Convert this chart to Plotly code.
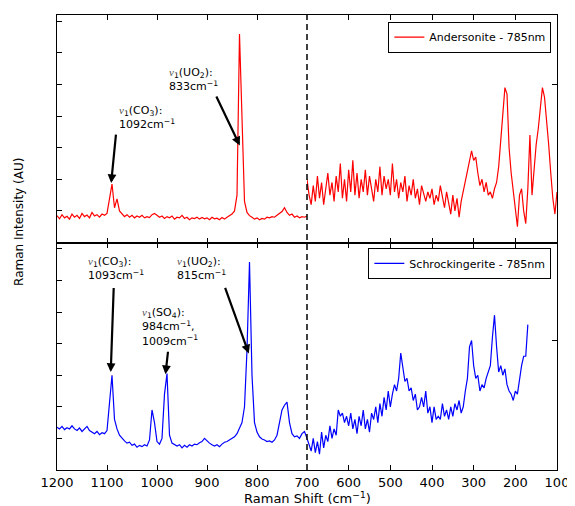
import numpy as np
import plotly.graph_objects as go

# ---------------- data ----------------
x_left = list(range(1200, 695, -5))          # 1200 -> 700
x_right_top = list(range(700, 95, -5))       # 700 -> 100
x_right_bot = list(range(700, 165, -5))      # 700 -> 170

anders_left = [
    0.85, 0.75, 0.88, 0.78, 0.83, 0.74, 0.90, 0.80, 0.86, 0.76, 0.92, 0.82, 0.87, 0.78, 0.95, 0.84, 0.88, 0.80, 0.90, 0.86, 0.92,
    1.40, 1.85, 1.10, 1.38, 1.00, 0.90, 0.82, 0.88, 0.80, 0.86, 0.78, 0.84, 0.80, 0.86, 0.78, 0.82, 0.79, 0.88, 0.92, 0.86,
    0.80, 0.84, 0.76, 0.82, 0.78, 0.84, 0.74, 0.80, 0.78, 0.86, 0.76, 0.80, 0.72, 0.78, 0.76, 0.80, 0.74, 0.79, 0.75, 0.78,
    0.72, 0.80, 0.75, 0.77, 0.72, 0.79, 0.74, 0.80, 0.84, 0.90, 1.00, 1.50, 6.60, 4.00, 1.30, 0.95, 0.85, 0.80, 0.74, 0.78,
    0.72, 0.76, 0.74, 0.80, 0.78, 0.82, 0.80, 0.86, 0.92, 0.98, 1.10, 0.95, 0.86, 0.90, 0.80, 0.84, 0.78, 0.82, 0.80, 0.84,
]
anders_right = [
    2.0, 1.5, 1.2, 1.8, 1.3, 2.1, 1.4, 1.9, 1.2, 1.7,
    2.2, 1.5, 1.9, 1.3, 2.1, 1.6, 2.5, 1.4, 2.0, 1.3,
    2.3, 1.6, 2.6, 1.5, 2.2, 1.4, 2.0, 1.6, 2.3, 1.5,
    2.1, 1.7, 1.3, 2.0, 1.6, 2.4, 1.5, 2.1, 1.7, 2.0,
    1.5, 2.5, 1.6, 2.0, 1.4, 1.9, 1.6, 2.1, 1.3, 1.8,
    1.5, 2.0, 1.4, 1.7, 1.2, 1.8, 1.5, 1.3, 1.6, 1.4,
    1.7, 1.2, 1.5, 1.3, 1.8, 1.4, 1.1, 1.6, 1.3, 0.9,
    1.5, 1.0, 1.4, 0.8, 1.3, 1.6, 2.0, 2.2, 2.5, 2.9,
    2.6, 2.7, 2.2, 1.8, 2.0, 1.6, 1.9, 1.5, 1.6, 1.4,
    1.7, 1.9, 2.4, 3.3, 4.3, 4.9, 4.7, 3.0, 2.2, 1.6,
    1.2, 0.5, 1.5, 1.7, 1.0, 0.6, 1.7, 3.4, 1.5, 2.4,
    3.1, 3.6, 4.3, 4.9, 4.6, 3.9, 3.1, 2.2, 1.4, 0.9,
    1.6,
]
schrock_left = [
    1.35, 1.30, 1.38, 1.28, 1.34, 1.30, 1.40, 1.30, 1.25, 1.33, 1.22, 1.30, 1.38, 1.25, 1.20, 1.15, 1.22, 1.12, 1.18, 1.15, 1.25,
    2.20, 3.00, 1.60, 1.30, 1.10, 1.00, 0.92, 0.85, 0.88, 0.78, 0.82, 0.72, 0.78, 0.74, 0.80, 0.76, 0.95, 1.90, 1.50, 0.90,
    0.82, 1.00, 2.40, 3.05, 1.10, 0.85, 0.80, 0.76, 0.80, 0.70, 0.78, 0.72, 0.80, 0.76, 0.82, 0.80, 0.86, 0.90, 1.00, 0.92,
    0.85, 0.80, 0.76, 0.80, 0.74, 0.82, 0.88, 0.90, 0.95, 1.00, 1.05, 1.15, 1.30, 1.50, 2.00, 3.80, 6.58, 3.00, 1.50, 1.20,
    1.05, 0.98, 0.95, 0.90, 0.92, 0.88, 0.95, 1.10, 1.50, 1.90, 2.05, 2.15, 1.50, 1.15, 1.05, 1.08, 1.00, 1.15, 1.22, 1.00,
]
schrock_right = [
    1.0, 0.8, 0.6, 1.0, 0.55, 0.9, 0.5, 1.2, 0.7, 1.1,
    0.9, 1.4, 1.0, 1.3, 1.1, 1.9, 1.7, 1.8, 1.5, 1.7,
    1.4, 1.8, 1.3, 1.6, 1.15, 1.7, 1.4, 1.9, 1.3, 1.6,
    1.2, 1.8, 1.6, 2.0, 1.5, 2.1, 1.7, 2.3, 1.9, 2.5,
    2.0, 2.4, 2.7, 2.5, 2.9, 3.7, 3.3, 2.8, 2.9, 2.5,
    2.6, 2.2, 2.4, 1.9, 2.0, 2.3, 2.0, 2.5, 1.8, 2.0,
    1.5, 2.0, 1.6, 1.7, 1.6, 2.1, 1.7, 1.9, 1.6, 2.0,
    1.7, 2.1, 1.9, 2.2, 1.8, 2.0, 2.5, 2.9, 3.9, 4.1,
    3.3, 2.9, 3.0, 2.5, 2.7, 2.6, 2.9, 3.1, 3.3, 4.2,
    4.9, 3.9, 3.1, 3.3, 3.0, 3.2, 2.7, 2.5, 2.4, 2.2,
    2.5, 2.4, 2.9, 3.3, 3.6, 3.6, 4.6,
]

left_ticks = [1200, 1100, 1000, 900, 800, 700]
right_ticks = [600, 500, 400, 300, 200, 100]

FONT = "DejaVu Sans"
RED = "#ff0000"
BLUE = "#0000ff"

fig = go.Figure()
# top panel (Andersonite)
fig.add_trace(go.Scatter(x=x_left, y=anders_left, mode="lines", line=dict(color=RED, width=1.2),
                         name="Andersonite - 785nm", xaxis="x3", yaxis="y3", legend="legend"))
fig.add_trace(go.Scatter(x=x_right_top, y=anders_right, mode="lines", line=dict(color=RED, width=1.2),
                         name="Andersonite - 785nm", xaxis="x4", yaxis="y4", showlegend=False))
# bottom panel (Schrockingerite)
fig.add_trace(go.Scatter(x=x_left, y=schrock_left, mode="lines", line=dict(color=BLUE, width=1.2),
                         name="Schrockingerite - 785nm", xaxis="x", yaxis="y", legend="legend2"))
fig.add_trace(go.Scatter(x=x_right_bot, y=schrock_right, mode="lines", line=dict(color=BLUE, width=1.2),
                         name="Schrockingerite - 785nm", xaxis="x2", yaxis="y2", showlegend=False))

ax_common = dict(showline=True, linecolor="black", linewidth=1, ticks="inside", ticklen=5,
                 tickcolor="black", showgrid=False, zeroline=False,
                 tickfont=dict(family=FONT, size=13, color="black"))

# the page body adds an 8px offset, so the figure is 8px smaller and margins shifted
fig.update_layout(
    width=567, height=498,
    margin=dict(l=49, r=13, t=6, b=36),
    paper_bgcolor="white", plot_bgcolor="white",
    font=dict(family=FONT, color="black"),
    xaxis=dict(domain=[0, 0.5], range=[1200, 700], anchor="y", tickvals=left_ticks, mirror="ticks", **ax_common),
    xaxis2=dict(domain=[0.5, 1], range=[700, 100], anchor="y2", tickvals=right_ticks, mirror="ticks", **ax_common),
    xaxis3=dict(domain=[0, 0.5], range=[1200, 700], anchor="y3", tickvals=left_ticks, showticklabels=False,
                mirror="ticks", **ax_common),
    xaxis4=dict(domain=[0.5, 1], range=[700, 100], anchor="y4", tickvals=right_ticks, showticklabels=False,
                mirror="ticks", **ax_common),
    yaxis=dict(domain=[0, 0.5], range=[0, 7.2], anchor="x", dtick=1, showticklabels=False, **ax_common),
    yaxis2=dict(domain=[0, 0.5], range=[0, 7.2], anchor="x2", side="right", tickvals=[4.1],
                showticklabels=False, **ax_common),
    yaxis3=dict(domain=[0.5, 1], range=[0, 7.2], anchor="x3", dtick=1, showticklabels=False, **ax_common),
    yaxis4=dict(domain=[0.5, 1], range=[0, 7.2], anchor="x4", side="right", tickvals=[5],
                showticklabels=False, **ax_common),
    legend=dict(x=0.9887, y=0.9853, xanchor="right", yanchor="top", bordercolor="black", borderwidth=1,
                bgcolor="white", font=dict(family=FONT, size=11), tracegroupgap=0,
                itemwidth=30),
    legend2=dict(x=0.9887, y=0.4884, xanchor="right", yanchor="top", bordercolor="black", borderwidth=1,
                 bgcolor="white", font=dict(family=FONT, size=11), tracegroupgap=0,
                 itemwidth=30),
    showlegend=True,
)

# dashed separator at 700 cm-1
fig.add_shape(type="line", xref="paper", yref="paper", x0=0.5, x1=0.5, y0=0, y1=1,
              line=dict(color="black", width=1.5, dash="6px,4px"))

V1 = '<span style="font-family:serif;font-style:italic;color:#555">v</span><sub>1</sub>'

labels = [
    ("x3", "y3", 1081, 3.97, V1 + "(CO<sub>3</sub>):<br>1092cm<sup>−1</sup>"),
    ("x3", "y3", 981, 5.17, V1 + "(UO<sub>2</sub>):<br>833cm<sup>−1</sup>"),
    ("x", "y", 1143, 6.38, V1 + "(CO<sub>3</sub>):<br>1093cm<sup>−1</sup>"),
    ("x", "y", 963.7, 6.38, V1 + "(UO<sub>2</sub>):<br>815cm<sup>−1</sup>"),
    ("x", "y", 1033.4, 4.53, V1 + "(SO<sub>4</sub>):<br>984cm<sup>−1</sup>,<br>1009cm<sup>−1</sup>"),
]
for xr, yr, lx, ly, txt in labels:
    fig.add_annotation(xref=xr, yref=yr, x=lx, y=ly, text=txt, showarrow=False, xanchor="left",
                       yanchor="middle", align="left", font=dict(family=FONT, size=11, color="black"))

arrows = [
    ("x3", "y3", 1081.8, 3.46, 1091.7, 1.88),
    ("x3", "y3", 882.7, 4.67, 834.4, 3.07),
    ("x", "y", 1086.5, 5.81, 1092.5, 3.10),
    ("x", "y", 977.7, 3.79, 983.0, 3.03),
    ("x", "y", 864.8, 5.81, 816.4, 3.69),
]
for xr, yr, tx, ty, hx, hy in arrows:
    fig.add_annotation(xref=xr, yref=yr, x=hx, y=hy, axref=xr, ayref=yr, ax=tx, ay=ty, text="",
                       showarrow=True, arrowhead=2, arrowsize=0.8, arrowwidth=2.2, arrowcolor="black",
                       standoff=0, startstandoff=0)

# axis titles
fig.add_annotation(xref="paper", yref="paper", x=0.5, y=-0.062, text="Raman Shift (cm<sup>−1</sup>)",
                   showarrow=False, xanchor="center", yanchor="middle",
                   font=dict(family=FONT, size=13, color="black"))
fig.add_annotation(xref="paper", yref="paper", x=-0.0773, y=0.546, text="Raman Intensity (AU)",
                   showarrow=False, textangle=-90, xanchor="center", yanchor="middle",
                   font=dict(family=FONT, size=12, color="black"))

fig.write_html("out.html")
